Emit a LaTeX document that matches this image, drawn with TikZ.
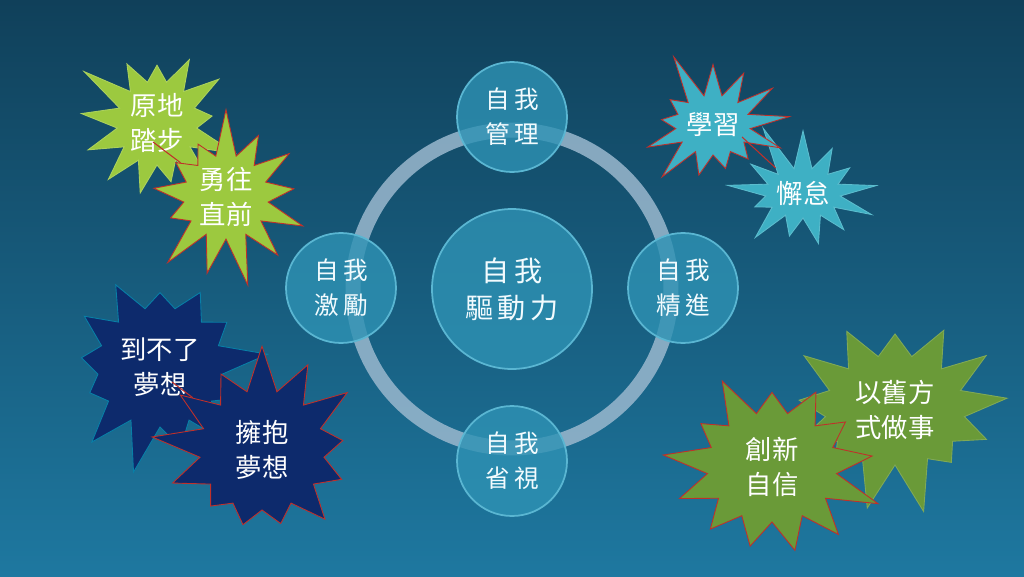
\documentclass[tikz,border=0pt]{standalone}
\usepackage{fontspec}
\newfontfamily\cjk{Noto Sans CJK TC}
\usetikzlibrary{shapes, positioning}
\definecolor{bgtop}{HTML}{10405A}
\definecolor{bgbot}{HTML}{1E78A0}
\definecolor{ringc}{HTML}{9AB8CE}
\definecolor{bubblec}{HTML}{2E92B4}
\definecolor{bubblerim}{HTML}{5AB6D2}
\definecolor{limeg}{HTML}{9CC93F}
\definecolor{cyang}{HTML}{3EB0C4}
\definecolor{navyb}{HTML}{0D2A6C}
\definecolor{oliveg}{HTML}{6A9A38}
\definecolor{redline}{HTML}{C0302A}

\begin{document}
\begin{tikzpicture}[x=0.02cm, y=0.02cm]
 \tikzstyle{burst}=[starburst, starburst points=13, starburst point height=1cm, inner sep=0pt, text=white, align=center, font=\cjk\fontsize{15}{20}\selectfont, line width=0.5pt]
 \tikzstyle{lime}=[burst, fill=limeg, draw=limeg!85!white]
 \tikzstyle{cyan}=[burst, fill=cyang, draw=cyang!85!white]
 \tikzstyle{navy}=[burst, fill=navyb, draw=navyb!60!cyan]
 \tikzstyle{olive}=[burst, fill=oliveg, draw=oliveg!85!white]
 \tikzstyle{redrim}=[draw=redline]
 \tikzstyle{bubble}=[circle, fill=bubblec, fill opacity=0.8, text opacity=1, draw=bubblerim, line width=1pt, text=white!95!cyan, align=center, font=\cjk\fontsize{14}{20}\selectfont, minimum size=2.2cm, inner sep=0pt]
 \tikzstyle{ring} = [circle, draw=ringc, draw opacity=0.85, line width=0.3cm, minimum size=6.36cm]
 \tikzstyle{pointer} = [draw=redline, line width=0.6pt]

 \shade[top color=bgtop, bottom color=bgbot] (0,0) rectangle (1024,576);
 \useasboundingbox (0,0) rectangle (1024,576);

 \node[ring] (ring) at (512,287) {};
 \node[bubble, minimum size=3.2cm, font=\cjk\fontsize{16}{21}\selectfont] (core) at (512,287) {自\,我\\驅\,動\,力};
 \node[bubble] (manage) at (512,459) {自\,我\\管\,理};
 \node[bubble] (motivate) at (341,288) {自\,我\\激\,勵};
 \node[bubble] (advance) at (683,288) {自\,我\\精\,進};
 \node[bubble] (reflect) at (512,115) {自\,我\\省\,視};

 \node[lime, random starburst=3, minimum width=3.6cm, minimum height=3.6cm] (yuandi) at (157,453) {原地\\踏步};
 \node[lime, redrim, random starburst=7, minimum width=3.7cm, minimum height=3.6cm] (yongwang) at (226,379) {勇往\\直前};
 \coordinate (yuandi tip) at (153,434);
 \path[pointer] (yuandi tip) -- (yongwang);

 \node[cyan, random starburst=11, minimum width=3.5cm, minimum height=3.0cm] (xiedai) at (803,383) {懈怠};
 \node[cyan, redrim, random starburst=5, minimum width=3.5cm, minimum height=3.2cm] (xuexi) at (713,451) {學習};
 \coordinate (xuexi tip) at (742,439);
 \path[pointer] (xuexi tip) -- (xiedai);

 \node[navy, random starburst=13, minimum width=4.5cm, minimum height=4.4cm] (daobuliao) at (160,209) {到不了\\夢想};
 \node[navy, redrim, random starburst=17, minimum width=4.5cm, minimum height=4.4cm] (yongbao) at (262,126) {擁抱\\夢想};
 \coordinate (daobuliao tip) at (172,194);
 \path[pointer] (daobuliao tip) -- (yongbao);

 \node[olive, random starburst=19, minimum width=4.8cm, minimum height=4.2cm] (jiufangshi) at (895,166) {以舊方\\式做事};
 \node[olive, redrim, random starburst=29, minimum width=4.6cm, minimum height=4.2cm] (chuangxin) at (772,109) {創新\\自信};
\end{tikzpicture}
\end{document}
